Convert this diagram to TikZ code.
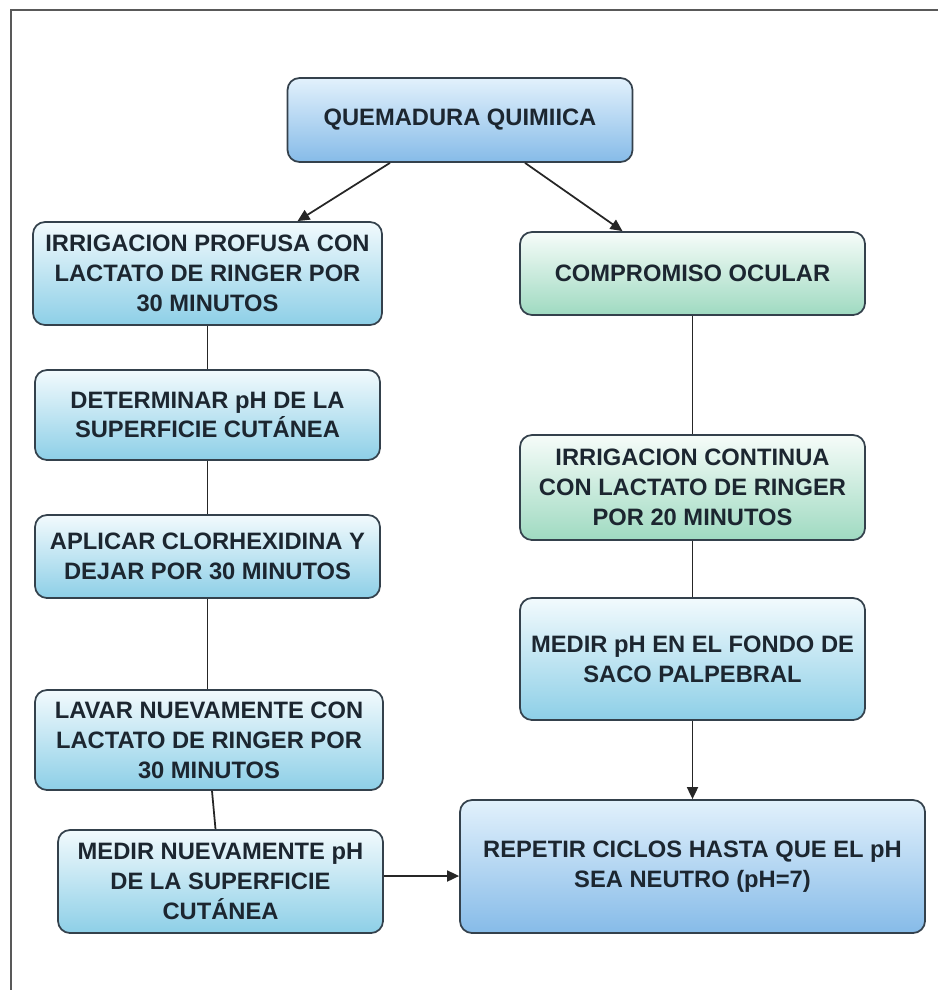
\documentclass[tikz,border=0pt]{standalone}
\usepackage{fontspec}
\setmainfont{Liberation Sans}
\usetikzlibrary{arrows.meta}
\definecolor{qink}{HTML}{1C2630}
\definecolor{qedge}{HTML}{34414C}
\definecolor{qblueT}{HTML}{E2F1FC}
\definecolor{qblueB}{HTML}{86BBE8}
\definecolor{qcyanT}{HTML}{F2FAFD}
\definecolor{qcyanB}{HTML}{8DCFE7}
\definecolor{qgreenT}{HTML}{F6FCF9}
\definecolor{qgreenB}{HTML}{9FDAC1}
\tikzset{
  qbox/.style={draw=qedge,line width=1pt,rounded corners=0.24cm,align=center,
    text=qink,font=\fontsize{13.5}{17}\selectfont\bfseries,inner sep=0pt},
  qblue/.style={qbox,top color=qblueT,bottom color=qblueB},
  qcyan/.style={qbox,top color=qcyanT,bottom color=qcyanB},
  qgreen/.style={qbox,top color=qgreenT,bottom color=qgreenB},
  qline/.style={line width=1pt,black!85},
  qarr/.style={qline,-{Triangle[length=2.4mm,width=2.2mm]}},
}

\begin{document}
\begin{tikzpicture}
\useasboundingbox (0,0) rectangle (18.76,-19.8);
% page frame (top and left only)
\draw[gray!70!black,line width=1.2pt] (0.22,-19.8) -- (0.22,-0.2) -- (18.76,-0.2);
% head
\node[qblue,minimum width=6.9cm,minimum height=1.68cm] (quem) at (9.2,-2.4) {QUEMADURA QUIMIICA};
% skin branch
\node[qcyan,minimum width=6.98cm,minimum height=2.06cm] (irrig) at (4.15,-5.47)
  {IRRIGACION PROFUSA CON\\LACTATO DE RINGER POR\\30 MINUTOS};
\node[qcyan,minimum width=6.9cm,minimum height=1.8cm] (deter) at (4.15,-8.3)
  {DETERMINAR pH DE LA\\SUPERFICIE CUTÁNEA};
\node[qcyan,minimum width=6.9cm,minimum height=1.66cm] (aplic) at (4.15,-11.13)
  {APLICAR CLORHEXIDINA Y\\DEJAR POR 30 MINUTOS};
\node[qcyan,minimum width=6.96cm,minimum height=2.0cm] (lavar) at (4.18,-14.8)
  {LAVAR NUEVAMENTE CON\\LACTATO DE RINGER POR\\30 MINUTOS};
\node[qcyan,minimum width=6.5cm,minimum height=2.06cm] (medir) at (4.41,-17.63)
  {MEDIR NUEVAMENTE pH\\DE LA SUPERFICIE\\CUTÁNEA};
% eye branch
\node[qgreen,minimum width=6.9cm,minimum height=1.66cm] (comp) at (13.85,-5.47)
  {COMPROMISO OCULAR};
\node[qgreen,minimum width=6.9cm,minimum height=2.1cm] (cont) at (13.85,-9.75)
  {IRRIGACION CONTINUA\\CON LACTATO DE RINGER\\POR 20 MINUTOS};
\node[qcyan,minimum width=6.9cm,minimum height=2.44cm] (fondo) at (13.85,-13.18)
  {MEDIR pH EN EL FONDO DE\\SACO PALPEBRAL};
\node[qblue,minimum width=9.3cm,minimum height=2.66cm] (repet) at (13.85,-17.33)
  {REPETIR CICLOS HASTA QUE EL pH\\SEA NEUTRO (pH=7)};
% connectors
\draw[qarr] ([xshift=-1.4cm]quem.south) -- ([xshift=1.8cm]irrig.north);
\draw[qarr] ([xshift=1.3cm]quem.south) -- ([xshift=-1.4cm]comp.north);
\draw[qline] (irrig) -- (deter);
\draw[qline] (deter) -- (aplic);
\draw[qline] (aplic.south) -- (aplic.south |- lavar.north);
\draw[qline] ([xshift=0.06cm]lavar.south) -- ([xshift=-0.1cm]medir.north);
\draw[qline] (comp) -- (cont);
\draw[qline] (cont) -- (fondo);
\draw[qarr] (fondo) -- (repet);
\draw[qarr] ([yshift=0.11cm]medir.east) -- ([yshift=0.11cm]medir.east -| repet.west);
\end{tikzpicture}
\end{document}
